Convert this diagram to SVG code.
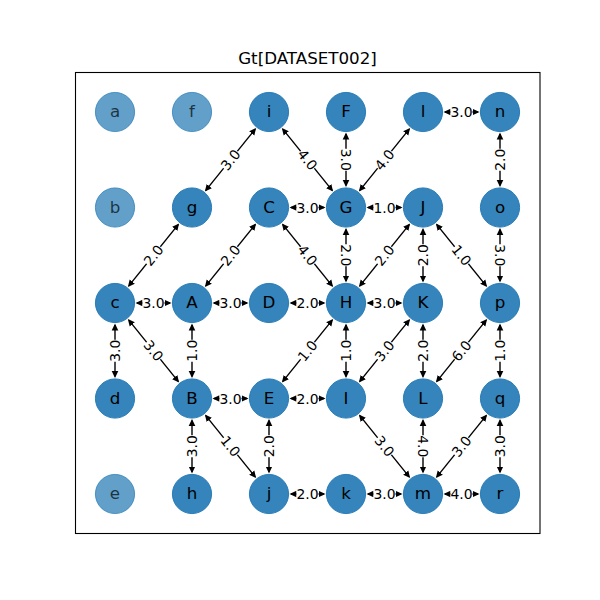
<svg xmlns="http://www.w3.org/2000/svg" width="600" height="600" viewBox="0 0 600 600">
<style>
.node circle{fill:#1f77b4;fill-opacity:0.9;stroke:#1f77b4;stroke-opacity:0.9;stroke-width:1}
.faded circle{fill-opacity:0.7;stroke-opacity:0.7}
.node text{font-family:"DejaVu Sans",sans-serif;font-size:16.7px;text-anchor:middle;fill:#000}
.faded text{fill-opacity:0.7}
.edge line{stroke:#000;stroke-width:1.4;marker-start:url(#ah);marker-end:url(#ah)}
.edge text{font-family:"DejaVu Sans",sans-serif;font-size:13.9px;text-anchor:middle;fill:#000}
</style>
<defs>
<marker id="ah" viewBox="0 -4 8 8" markerWidth="8" markerHeight="8" refX="5.5" refY="0" orient="auto-start-reverse" markerUnits="userSpaceOnUse"><path d="M0,-3.3 L7,0 L0,3.3 z" fill="#000"/></marker>
<rect id="lb" x="-11" y="-5.5" width="22" height="11" rx="2" fill="#fff"/>
</defs>
<rect x="0" y="0" width="600" height="600" fill="#fff"/>
<rect x="75.5" y="72.5" width="464.5" height="461" fill="none" stroke="#000" stroke-width="1.1"/>
<text x="307.5" y="64" font-family="DejaVu Sans, sans-serif" font-size="16.7" text-anchor="middle">Gt[DATASET002]</text>
<g id="edges">
<g class="edge"><line x1="445" y1="112" x2="478" y2="112"/><g transform="translate(461.5,112)"><use href="#lb"/><text y="5">3.0</text></g></g>
<g class="edge"><line x1="291" y1="207.5" x2="324" y2="207.5"/><g transform="translate(307.5,207.5)"><use href="#lb"/><text y="5">3.0</text></g></g>
<g class="edge"><line x1="368" y1="207.5" x2="401" y2="207.5"/><g transform="translate(384.5,207.5)"><use href="#lb"/><text y="5">1.0</text></g></g>
<g class="edge"><line x1="137" y1="303" x2="170" y2="303"/><g transform="translate(153.5,303)"><use href="#lb"/><text y="5">3.0</text></g></g>
<g class="edge"><line x1="214" y1="303" x2="247" y2="303"/><g transform="translate(230.5,303)"><use href="#lb"/><text y="5">3.0</text></g></g>
<g class="edge"><line x1="291" y1="303" x2="324" y2="303"/><g transform="translate(307.5,303)"><use href="#lb"/><text y="5">2.0</text></g></g>
<g class="edge"><line x1="368" y1="303" x2="401" y2="303"/><g transform="translate(384.5,303)"><use href="#lb"/><text y="5">3.0</text></g></g>
<g class="edge"><line x1="214" y1="398.5" x2="247" y2="398.5"/><g transform="translate(230.5,398.5)"><use href="#lb"/><text y="5">3.0</text></g></g>
<g class="edge"><line x1="291" y1="398.5" x2="324" y2="398.5"/><g transform="translate(307.5,398.5)"><use href="#lb"/><text y="5">2.0</text></g></g>
<g class="edge"><line x1="291" y1="494" x2="324" y2="494"/><g transform="translate(307.5,494)"><use href="#lb"/><text y="5">2.0</text></g></g>
<g class="edge"><line x1="368" y1="494" x2="401" y2="494"/><g transform="translate(384.5,494)"><use href="#lb"/><text y="5">3.0</text></g></g>
<g class="edge"><line x1="445" y1="494" x2="478" y2="494"/><g transform="translate(461.5,494)"><use href="#lb"/><text y="5">4.0</text></g></g>
<g class="edge"><line x1="346" y1="134" x2="346" y2="185.5"/><g transform="translate(346,159.75) rotate(90)"><use href="#lb"/><text y="5">3.0</text></g></g>
<g class="edge"><line x1="500" y1="134" x2="500" y2="185.5"/><g transform="translate(500,159.75) rotate(-90)"><use href="#lb"/><text y="5">2.0</text></g></g>
<g class="edge"><line x1="346" y1="229.5" x2="346" y2="281"/><g transform="translate(346,255.25) rotate(90)"><use href="#lb"/><text y="5">2.0</text></g></g>
<g class="edge"><line x1="423" y1="229.5" x2="423" y2="281"/><g transform="translate(423,255.25) rotate(-90)"><use href="#lb"/><text y="5">2.0</text></g></g>
<g class="edge"><line x1="500" y1="229.5" x2="500" y2="281"/><g transform="translate(500,255.25) rotate(90)"><use href="#lb"/><text y="5">3.0</text></g></g>
<g class="edge"><line x1="115" y1="325" x2="115" y2="376.5"/><g transform="translate(115,350.75) rotate(-90)"><use href="#lb"/><text y="5">3.0</text></g></g>
<g class="edge"><line x1="192" y1="325" x2="192" y2="376.5"/><g transform="translate(192,350.75) rotate(-90)"><use href="#lb"/><text y="5">1.0</text></g></g>
<g class="edge"><line x1="346" y1="325" x2="346" y2="376.5"/><g transform="translate(346,350.75) rotate(-90)"><use href="#lb"/><text y="5">1.0</text></g></g>
<g class="edge"><line x1="423" y1="325" x2="423" y2="376.5"/><g transform="translate(423,350.75) rotate(-90)"><use href="#lb"/><text y="5">2.0</text></g></g>
<g class="edge"><line x1="500" y1="325" x2="500" y2="376.5"/><g transform="translate(500,350.75) rotate(-90)"><use href="#lb"/><text y="5">1.0</text></g></g>
<g class="edge"><line x1="192" y1="420.5" x2="192" y2="472"/><g transform="translate(192,446.25) rotate(-90)"><use href="#lb"/><text y="5">3.0</text></g></g>
<g class="edge"><line x1="269" y1="420.5" x2="269" y2="472"/><g transform="translate(269,446.25) rotate(-90)"><use href="#lb"/><text y="5">2.0</text></g></g>
<g class="edge"><line x1="423" y1="420.5" x2="423" y2="472"/><g transform="translate(423,446.25) rotate(90)"><use href="#lb"/><text y="5">4.0</text></g></g>
<g class="edge"><line x1="500" y1="420.5" x2="500" y2="472"/><g transform="translate(500,446.25) rotate(-90)"><use href="#lb"/><text y="5">3.0</text></g></g>
<g class="edge"><line x1="255.19" y1="129.13" x2="205.81" y2="190.37"/><g transform="translate(230.5,159.75) rotate(-51.1)"><use href="#lb"/><text y="5">3.0</text></g></g>
<g class="edge"><line x1="282.81" y1="129.13" x2="332.19" y2="190.37"/><g transform="translate(307.5,159.75) rotate(51.1)"><use href="#lb"/><text y="5">4.0</text></g></g>
<g class="edge"><line x1="409.19" y1="129.13" x2="359.81" y2="190.37"/><g transform="translate(384.5,159.75) rotate(-51.1)"><use href="#lb"/><text y="5">4.0</text></g></g>
<g class="edge"><line x1="178.19" y1="224.63" x2="128.81" y2="285.87"/><g transform="translate(153.5,255.25) rotate(-51.1)"><use href="#lb"/><text y="5">2.0</text></g></g>
<g class="edge"><line x1="255.19" y1="224.63" x2="205.81" y2="285.87"/><g transform="translate(230.5,255.25) rotate(-51.1)"><use href="#lb"/><text y="5">2.0</text></g></g>
<g class="edge"><line x1="282.81" y1="224.63" x2="332.19" y2="285.87"/><g transform="translate(307.5,255.25) rotate(51.1)"><use href="#lb"/><text y="5">4.0</text></g></g>
<g class="edge"><line x1="409.19" y1="224.63" x2="359.81" y2="285.87"/><g transform="translate(384.5,255.25) rotate(-51.1)"><use href="#lb"/><text y="5">2.0</text></g></g>
<g class="edge"><line x1="436.81" y1="224.63" x2="486.19" y2="285.87"/><g transform="translate(461.5,255.25) rotate(51.1)"><use href="#lb"/><text y="5">1.0</text></g></g>
<g class="edge"><line x1="128.81" y1="320.13" x2="178.19" y2="381.37"/><g transform="translate(153.5,350.75) rotate(51.1)"><use href="#lb"/><text y="5">3.0</text></g></g>
<g class="edge"><line x1="332.19" y1="320.13" x2="282.81" y2="381.37"/><g transform="translate(307.5,350.75) rotate(-51.1)"><use href="#lb"/><text y="5">1.0</text></g></g>
<g class="edge"><line x1="409.19" y1="320.13" x2="359.81" y2="381.37"/><g transform="translate(384.5,350.75) rotate(-51.1)"><use href="#lb"/><text y="5">3.0</text></g></g>
<g class="edge"><line x1="486.19" y1="320.13" x2="436.81" y2="381.37"/><g transform="translate(461.5,350.75) rotate(-51.1)"><use href="#lb"/><text y="5">6.0</text></g></g>
<g class="edge"><line x1="205.81" y1="415.63" x2="255.19" y2="476.87"/><g transform="translate(230.5,446.25) rotate(51.1)"><use href="#lb"/><text y="5">1.0</text></g></g>
<g class="edge"><line x1="359.81" y1="415.63" x2="409.19" y2="476.87"/><g transform="translate(384.5,446.25) rotate(51.1)"><use href="#lb"/><text y="5">3.0</text></g></g>
<g class="edge"><line x1="486.19" y1="415.63" x2="436.81" y2="476.87"/><g transform="translate(461.5,446.25) rotate(-51.1)"><use href="#lb"/><text y="5">3.0</text></g></g>
</g>
<g id="nodes">
<g id="n_a" class="node faded"><circle cx="115" cy="112" r="19.6"/><text x="115" y="117">a</text></g>
<g id="n_f" class="node faded"><circle cx="192" cy="112" r="19.6"/><text x="192" y="117">f</text></g>
<g id="n_i" class="node"><circle cx="269" cy="112" r="19.6"/><text x="269" y="117">i</text></g>
<g id="n_F" class="node"><circle cx="346" cy="112" r="19.6"/><text x="346" y="117">F</text></g>
<g id="n_l" class="node"><circle cx="423" cy="112" r="19.6"/><text x="423" y="117">l</text></g>
<g id="n_n" class="node"><circle cx="500" cy="112" r="19.6"/><text x="500" y="117">n</text></g>
<g id="n_b" class="node faded"><circle cx="115" cy="207.5" r="19.6"/><text x="115" y="212.5">b</text></g>
<g id="n_g" class="node"><circle cx="192" cy="207.5" r="19.6"/><text x="192" y="212.5">g</text></g>
<g id="n_C" class="node"><circle cx="269" cy="207.5" r="19.6"/><text x="269" y="212.5">C</text></g>
<g id="n_G" class="node"><circle cx="346" cy="207.5" r="19.6"/><text x="346" y="212.5">G</text></g>
<g id="n_J" class="node"><circle cx="423" cy="207.5" r="19.6"/><text x="423" y="212.5">J</text></g>
<g id="n_o" class="node"><circle cx="500" cy="207.5" r="19.6"/><text x="500" y="212.5">o</text></g>
<g id="n_c" class="node"><circle cx="115" cy="303" r="19.6"/><text x="115" y="308">c</text></g>
<g id="n_A" class="node"><circle cx="192" cy="303" r="19.6"/><text x="192" y="308">A</text></g>
<g id="n_D" class="node"><circle cx="269" cy="303" r="19.6"/><text x="269" y="308">D</text></g>
<g id="n_H" class="node"><circle cx="346" cy="303" r="19.6"/><text x="346" y="308">H</text></g>
<g id="n_K" class="node"><circle cx="423" cy="303" r="19.6"/><text x="423" y="308">K</text></g>
<g id="n_p" class="node"><circle cx="500" cy="303" r="19.6"/><text x="500" y="308">p</text></g>
<g id="n_d" class="node"><circle cx="115" cy="398.5" r="19.6"/><text x="115" y="403.5">d</text></g>
<g id="n_B" class="node"><circle cx="192" cy="398.5" r="19.6"/><text x="192" y="403.5">B</text></g>
<g id="n_E" class="node"><circle cx="269" cy="398.5" r="19.6"/><text x="269" y="403.5">E</text></g>
<g id="n_I" class="node"><circle cx="346" cy="398.5" r="19.6"/><text x="346" y="403.5">I</text></g>
<g id="n_L" class="node"><circle cx="423" cy="398.5" r="19.6"/><text x="423" y="403.5">L</text></g>
<g id="n_q" class="node"><circle cx="500" cy="398.5" r="19.6"/><text x="500" y="403.5">q</text></g>
<g id="n_e" class="node faded"><circle cx="115" cy="494" r="19.6"/><text x="115" y="499">e</text></g>
<g id="n_h" class="node"><circle cx="192" cy="494" r="19.6"/><text x="192" y="499">h</text></g>
<g id="n_j" class="node"><circle cx="269" cy="494" r="19.6"/><text x="269" y="499">j</text></g>
<g id="n_k" class="node"><circle cx="346" cy="494" r="19.6"/><text x="346" y="499">k</text></g>
<g id="n_m" class="node"><circle cx="423" cy="494" r="19.6"/><text x="423" y="499">m</text></g>
<g id="n_r" class="node"><circle cx="500" cy="494" r="19.6"/><text x="500" y="499">r</text></g>
</g>
</svg>
